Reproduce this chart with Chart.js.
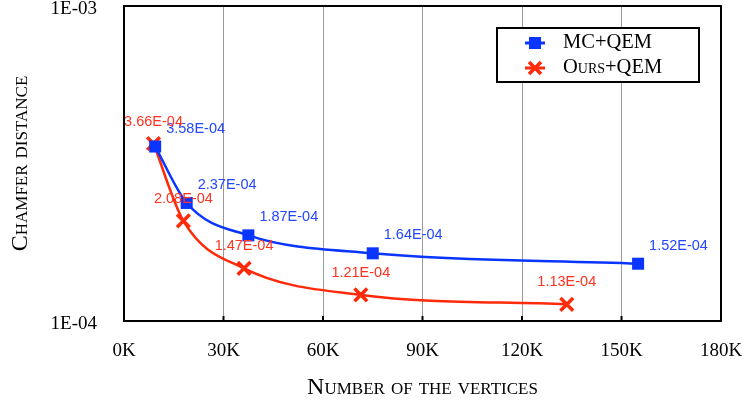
<!DOCTYPE html>
<html>
<head>
<meta charset="utf-8">
<script src="https://cdn.jsdelivr.net/npm/chart.js@4"></script>
<style>
  html, body { margin: 0; padding: 0; background: #fff; }
  #wrap { width: 745px; height: 402px; }
</style>
</head>
<body>
<div id="wrap"><canvas id="myChart" width="745" height="402"></canvas></div>
<script>
// vertex counts (K) and chamfer distances
const mcVertices = [9400, 18900, 37500, 75000, 155000]
const mcDistance = [3.58e-4, 2.37e-4, 1.87e-4, 1.64e-4, 1.52e-4]
const oursVertices = [8900, 17900, 36200, 71400, 133500]
const oursDistance = [3.66e-4, 2.08e-4, 1.47e-4, 1.21e-4, 1.13e-4]
const xTicks = [0, 30000, 60000, 90000, 120000, 150000, 180000]
const yTicks = [1e-4, 1e-3]
const seriesNames = ['MC+QEM', 'Ours+QEM']

const BLUE = '#0a35ff'
const RED = '#ff2a0a'
const SERIF = '"Liberation Serif", "DejaVu Serif", serif'
const SANS = '"Liberation Sans", Arial, sans-serif'

const fmtSci = (v) => {
    const e = Math.floor(Math.log10(v) + 1e-9)
    const m = v / Math.pow(10, e)
    const sign = e < 0 ? '-' : '+'
    return m.toFixed(2) + 'E' + sign + String(Math.abs(e)).padStart(2, '0')
}
const fmtDecade = (v) => {
    const e = Math.round(Math.log10(v))
    return '1E' + (e < 0 ? '-' : '+') + String(Math.abs(e)).padStart(2, '0')
}

const toPoints = (xs, ys) => xs.map((x, i) => ({ x: x, y: ys[i] }))

// box around the plot + short inward ticks on the bottom axis
const frame = {
    id: 'frame',
    afterDraw(chart) {
        const { ctx, chartArea: a } = chart
        const xs = chart.scales.x
        ctx.save()
        ctx.strokeStyle = '#000'
        ctx.lineWidth = 2
        ctx.strokeRect(a.left, a.top, a.right - a.left, a.bottom - a.top)
        xTicks.forEach(t => {
            const px = xs.getPixelForValue(t)
            ctx.beginPath()
            ctx.moveTo(px, a.bottom)
            ctx.lineTo(px, a.bottom - 5)
            ctx.stroke()
        })
        ctx.restore()
    }
}

// value labels next to each point
const valueLabels = {
    id: 'valueLabels',
    afterDatasetsDraw(chart) {
        const { ctx } = chart
        ctx.save()
        ctx.font = '14.5px ' + SANS
        ctx.textBaseline = 'middle'
        chart.data.datasets.forEach((ds, di) => {
            const meta = chart.getDatasetMeta(di)
            meta.data.forEach((pt, i) => {
                const txt = fmtSci(ds.data[i].y)
                if (di === 0) {
                    ctx.fillStyle = '#2447ff'
                    ctx.textAlign = 'left'
                    ctx.fillText(txt, pt.x + 11, pt.y - 18)
                } else {
                    ctx.fillStyle = '#ff3320'
                    ctx.textAlign = 'center'
                    ctx.fillText(txt, pt.x, pt.y - 22)
                }
            })
        })
        ctx.restore()
    }
}

// legend box inside the plot, top right
const boxLegend = {
    id: 'boxLegend',
    afterDraw(chart) {
        const { ctx, chartArea: a } = chart
        const right = a.right - 22
        const top = a.top + 22
        const w = 202, h = 54
        const left = right - w
        ctx.save()
        ctx.fillStyle = '#fff'
        ctx.fillRect(left, top, w, h)
        ctx.strokeStyle = '#000'
        ctx.lineWidth = 2
        ctx.strokeRect(left, top, w, h)
        ctx.font = 'small-caps 20.5px ' + SERIF
        ctx.textBaseline = 'middle'
        ctx.textAlign = 'left'
        chart.data.datasets.forEach((ds, i) => {
            const cy = top + 15 + i * 25
            const cx = left + 38
            ctx.strokeStyle = ds.borderColor
            ctx.lineWidth = 3
            ctx.beginPath()
            ctx.moveTo(cx - 10, cy)
            ctx.lineTo(cx + 10, cy)
            ctx.stroke()
            ctx.fillStyle = ds.pointBackgroundColor
            ctx.strokeStyle = ds.pointBorderColor
            ctx.lineWidth = ds.pointBorderWidth
            ctx.beginPath()
            if (ds.pointStyle === 'rect') {
                ctx.fillRect(cx - 6, cy - 6, 12, 12)
            } else {
                ctx.moveTo(cx - 6, cy - 6); ctx.lineTo(cx + 6, cy + 6)
                ctx.moveTo(cx + 6, cy - 6); ctx.lineTo(cx - 6, cy + 6)
                ctx.stroke()
            }
            ctx.fillStyle = '#000'
            ctx.fillText(ds.label, left + 66, cy)
        })
        ctx.restore()
    }
}

const ctx = document.querySelector('#myChart').getContext('2d')

new Chart(ctx, {
    type: 'line',
    data: {
        datasets: [
            {
                label: seriesNames[0],
                data: toPoints(mcVertices, mcDistance),
                borderColor: BLUE,
                backgroundColor: BLUE,
                borderWidth: 2.5,
                pointStyle: 'rect',
                pointRadius: 8.5,
                pointBackgroundColor: BLUE,
                pointBorderColor: BLUE,
                pointBorderWidth: 0,
                cubicInterpolationMode: 'monotone',
                fill: false
            },
            {
                label: seriesNames[1],
                data: toPoints(oursVertices, oursDistance),
                borderColor: RED,
                backgroundColor: RED,
                borderWidth: 2.5,
                pointStyle: 'crossRot',
                pointRadius: 9,
                pointBackgroundColor: RED,
                pointBorderColor: RED,
                pointBorderWidth: 3.5,
                cubicInterpolationMode: 'monotone',
                fill: false
            }
        ]
    },
    options: {
        responsive: false,
        animation: false,
        events: [],
        layout: { autoPadding: false, padding: { top: 6, right: 24, left: 0, bottom: 0 } },
        scales: {
            x: {
                type: 'linear',
                min: 0,
                max: 180000,
                afterBuildTicks: (scale) => { scale.ticks = xTicks.map(v => ({ value: v })) },
                afterFit: (scale) => {
                    scale.height = 81
                    scale.paddingLeft = 0
                    scale.paddingRight = 0
                },
                grid: { color: '#999', lineWidth: 1, drawTicks: false },
                border: { color: '#000', width: 2 },
                ticks: {
                    color: '#000',
                    padding: 19,
                    maxRotation: 0,
                    font: { family: SERIF, size: 19 },
                    callback: (v) => (v / 1000) + 'K'
                },
                title: {
                    display: true,
                    text: 'Number of the vertices',
                    color: '#000',
                    padding: { top: 4, bottom: 0 },
                    font: { family: SERIF, size: 24, weight: 'small-caps' }
                }
            },
            y: {
                type: 'logarithmic',
                min: 1e-4,
                max: 1e-3,
                afterBuildTicks: (scale) => { scale.ticks = yTicks.map(v => ({ value: v })) },
                afterFit: (scale) => {
                    scale.width = 124
                    scale.paddingTop = 0
                    scale.paddingBottom = 0
                },
                grid: { display: false, drawTicks: false },
                border: { color: '#000', width: 2 },
                ticks: {
                    color: '#000',
                    padding: 27,
                    labelOffset: 3,
                    font: { family: SERIF, size: 19, lineHeight: 0.5 },
                    callback: (v) => fmtDecade(v)
                },
                title: {
                    display: true,
                    text: 'Chamfer distance',
                    color: '#000',
                    padding: { top: 6, bottom: 0 },
                    font: { family: SERIF, size: 24, weight: 'small-caps' }
                }
            }
        },
        plugins: {
            legend: { display: false },
            tooltip: { enabled: false }
        }
    },
    plugins: [frame, valueLabels, boxLegend]
})
</script>
</body>
</html>
